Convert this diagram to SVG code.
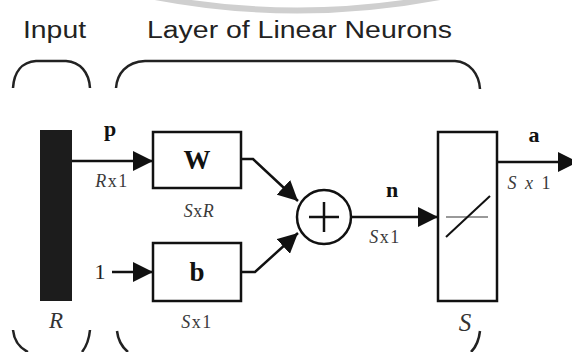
<svg xmlns="http://www.w3.org/2000/svg" width="572" height="352" viewBox="0 0 572 352">
<style>
.lbl{font-family:"Liberation Sans",Arial,sans-serif;font-size:23px;fill:#222}
.bold{font-family:"Liberation Serif","Times New Roman",serif;font-weight:bold;fill:#111}
.it{font-family:"Liberation Serif","Times New Roman",serif;font-style:italic;fill:#333}
.dim{font-family:"Liberation Serif","Times New Roman",serif;font-size:18px;fill:#3a3a3a}
.box{fill:#fff;stroke:#111;stroke-width:2.5}
.brace{fill:none;stroke:#222;stroke-width:2.5}
.wire{fill:none;stroke:#111;stroke-width:2.5}
</style>
<defs>
<marker id="ah" viewBox="0 0 20 20" refX="20" refY="10" markerWidth="20" markerHeight="20" markerUnits="userSpaceOnUse" orient="auto">
<path d="M0,0 L20,10 L0,20 Z" fill="#111"/>
</marker>
</defs>
<rect width="572" height="352" fill="#fff"/>
<path d="M155,-3 Q297,24 440,-3" fill="none" stroke="#cfcfcf" stroke-width="6"/>

<g id="labels">
<text class="lbl" x="23" y="38" textLength="63" lengthAdjust="spacingAndGlyphs">Input</text>
<text class="lbl" x="147" y="38" textLength="305" lengthAdjust="spacingAndGlyphs">Layer of Linear Neurons</text>
</g>

<g id="braces">
<path class="brace" d="M13,88 C14,72 22,62 36,61 L66,61 C80,62 89,72 90,88"/>
<path class="brace" d="M116,88 C117,74 126,62 145,61 L455,61 C470,62 479,74 480,89"/>
<path class="brace" d="M13,330 C14,340 20,348 28,352"/>
<path class="brace" d="M90,330 C89,340 86,347 82,352"/>
<path class="brace" d="M117,331 C118,340 122,347 128,352"/>
<path class="brace" d="M480,331 C479,340 476,347 471,352"/>
</g>

<g id="input">
<rect x="40" y="130" width="32" height="171" fill="#1c1c1c"/>
<text class="it" x="56" y="328" font-size="23" text-anchor="middle">R</text>
</g>

<g id="W">
<rect class="box" x="153" y="132" width="88" height="56"/>
<text class="bold" x="197" y="169" font-size="27" text-anchor="middle">W</text>
<text class="dim" x="199" y="217" text-anchor="middle" letter-spacing="0.5"><tspan font-style="italic">S</tspan>x<tspan font-style="italic">R</tspan></text>
</g>

<g id="b">
<rect class="box" x="153" y="243" width="88" height="58"/>
<text class="bold" x="197" y="281" font-size="27" text-anchor="middle">b</text>
<text class="dim" x="197" y="328" text-anchor="middle" letter-spacing="1.5"><tspan font-style="italic">S</tspan>x1</text>
</g>

<g id="sum">
<circle cx="324" cy="217" r="27" fill="#fff" stroke="#111" stroke-width="2.5"/>
<path d="M309,217 H339 M324,202 V232" stroke="#111" stroke-width="2.5"/>
</g>

<g id="transfer">
<rect class="box" x="438" y="132" width="59" height="169"/>
<path d="M446,217 H488" stroke="#777" stroke-width="1.5"/>
<path d="M446,237 L490,196" stroke="#111" stroke-width="2"/>
<text class="it" x="465" y="331" font-size="25" text-anchor="middle">S</text>
</g>

<g id="connectors">
<path class="wire" d="M72,161 H153" marker-end="url(#ah)"/>
<path class="wire" d="M112,272 H153" marker-end="url(#ah)"/>
<path class="wire" d="M241,159 H253 L298,201" marker-end="url(#ah)"/>
<path class="wire" d="M241,272 H255 L298,233" marker-end="url(#ah)"/>
<path class="wire" d="M351,217 H438" marker-end="url(#ah)"/>
<path class="wire" d="M497,162 H578" marker-end="url(#ah)"/>
</g>

<g id="connector-labels">
<text class="bold" x="110" y="136" font-size="22" text-anchor="middle">p</text>
<text class="dim" x="112" y="187" text-anchor="middle" letter-spacing="1.5"><tspan font-style="italic">R</tspan>x1</text>
<text x="100" y="279" font-family="'Liberation Serif','Times New Roman',serif" font-size="22" fill="#222" text-anchor="middle">1</text>
<text class="bold" x="392" y="197" font-size="22" text-anchor="middle">n</text>
<text class="dim" x="385" y="243" text-anchor="middle" letter-spacing="1.5"><tspan font-style="italic">S</tspan>x1</text>
<text class="bold" x="534" y="142" font-size="22" text-anchor="middle">a</text>
<text class="dim" x="530" y="189" text-anchor="middle" letter-spacing="2"><tspan font-style="italic">S</tspan> <tspan font-style="italic">x</tspan> 1</text>
</g>
</svg>
